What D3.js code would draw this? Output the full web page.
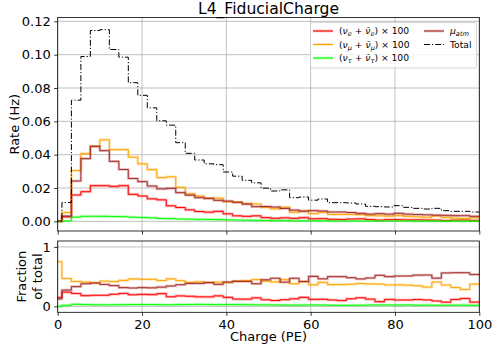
<!DOCTYPE html>
<html>
<head>
<meta charset="utf-8">
<script src="https://cdn.jsdelivr.net/npm/d3@7"></script>
<style>
body { margin: 0; background: #fff; }
svg { font-family: "DejaVu Sans", sans-serif; }
.grid line { stroke: #b0b0b0; stroke-width: 0.8; }
.axis path, .axis line { stroke: #000; stroke-width: 0.8; }
.axis text { font-size: 13px; fill: #000; font-family: "DejaVu Sans", sans-serif; }
.legend text { font-size: 9.2px; fill: #000; }
</style>
</head>
<body>
<svg width="492" height="353"></svg>
<script>
// histogram bin edges (PE), first bin is the underflow below 1 PE
var binEdges = [-1.25, 1, 3.25, 5.5, 7.75, 10, 12.25, 14.5, 16.75, 19, 21.25, 23.5, 25.75, 28,
  30.25, 32.5, 34.75, 37, 39.25, 41.5, 43.75, 46, 48.25, 50.5, 52.75, 55, 57.25, 59.5, 61.75,
  64, 66.25, 68.5, 70.75, 73, 75.25, 77.5, 79.75, 82, 84.25, 86.5, 88.75, 91, 93.25, 95.5, 97.75, 100];

// rates per bin (Hz), neutrinos already scaled x100
var nueRate = [0.00006, 0.0027, 0.0158, 0.0178, 0.0214, 0.0214, 0.0210, 0.0214, 0.0162, 0.0152,
  0.0135, 0.0129, 0.0093, 0.0083, 0.0069, 0.0059, 0.0055, 0.0060, 0.0045, 0.0033,
  0.0030, 0.0033, 0.0022, 0.0018, 0.0021, 0.0018, 0.0022, 0.0015, 0.0016, 0.0012,
  0.0011, 0.0014, 0.0015, 0.0011, 0.0007, 0.0010, 0.0010, 0.0009, 0.0009, 0.0008,
  0.0007, 0.00045, 0.0007, 0.0008, 0.0004];
var numuRate = [0.0003, 0.0053, 0.0305, 0.0406, 0.0450, 0.0489, 0.0430, 0.0430, 0.0385, 0.0345,
  0.0310, 0.0262, 0.0267, 0.0204, 0.0165, 0.0152, 0.0138, 0.0139, 0.0118, 0.0116,
  0.0107, 0.0104, 0.0084, 0.0075, 0.0085, 0.0054, 0.0061, 0.0046, 0.0054, 0.0041,
  0.0041, 0.0041, 0.0040, 0.0034, 0.0033, 0.0031, 0.0034, 0.0030, 0.0027, 0.0024,
  0.0032, 0.0023, 0.0019, 0.0017, 0.0021];
var nutauRate = [0, 0.0002, 0.0025, 0.0030, 0.0030, 0.0030, 0.0029, 0.0028, 0.0025, 0.0023,
  0.0021, 0.0017, 0.0016, 0.0014, 0.0013, 0.0012, 0.0011, 0.0010, 0.0009, 0.0008,
  0.0007, 0.0006, 0.0005, 0.0004, 0.0004, 0.0003, 0.0003, 0.0003, 0.0003, 0.0002,
  0.0002, 0.0002, 0.0002, 0.0002, 0.0002, 0.0002, 0.0002, 0.0002, 0.00015, 0.00015,
  0.00015, 0.00012, 0.00012, 0.00012, 0.0001];
var muAtmRate = [0.00005, 0.0031, 0.0242, 0.0376, 0.0450, 0.0424, 0.0360, 0.0311, 0.0257, 0.0238,
  0.0212, 0.0195, 0.0198, 0.0172, 0.0157, 0.0142, 0.0138, 0.0126, 0.0121, 0.0114,
  0.0103, 0.0088, 0.0089, 0.0086, 0.0077, 0.0067, 0.0061, 0.0064, 0.0062, 0.0056,
  0.0056, 0.0053, 0.0048, 0.0043, 0.0046, 0.0043, 0.0048, 0.0043, 0.0041, 0.0039,
  0.0037, 0.0036, 0.0034, 0.0034, 0.0030];
var totalRate = [0.0004, 0.0113, 0.0727, 0.0989, 0.1145, 0.1150, 0.1031, 0.0985, 0.0832, 0.0756,
  0.0681, 0.0603, 0.0577, 0.0472, 0.0408, 0.0368, 0.0345, 0.0340, 0.0296, 0.0271,
  0.0246, 0.0231, 0.0199, 0.0182, 0.0189, 0.0142, 0.0146, 0.0127, 0.0134, 0.0112,
  0.0112, 0.0110, 0.0104, 0.0090, 0.0088, 0.0086, 0.0094, 0.0084, 0.0078, 0.0074,
  0.0078, 0.0064, 0.0060, 0.0060, 0.0056];

var rateTicks = [0, 0.02, 0.04, 0.06, 0.08, 0.10, 0.12];
var fracTicks = [0, 1];
var chargeTicks = [0, 20, 40, 60, 80, 100];

var svg = d3.select("svg"),
    left = 57.7, right = 479.3,
    main = {top: 17.5, bottom: 231},
    frac = {top: 241, bottom: 312.3};

var x = d3.scaleLinear().domain([0, 100]).range([left, right]);
var yRate = d3.scaleLinear().domain([-0.0058, 0.1223]).range([main.bottom, main.top]);
var yFrac = d3.scaleLinear().domain([-0.1, 1.1]).range([frac.bottom, frac.top]);

var series = [
  {values: nueRate, color: "#ff0000"},
  {values: numuRate, color: "#ffa500"},
  {values: nutauRate, color: "#00ff00"},
  {values: muAtmRate, color: "#a52a2a"}
];

// step points: each bin value held from its left edge, last value closed at final edge
function steps(vals) {
  var pts = vals.map(function(v, i) { return [binEdges[i], v]; });
  pts.push([binEdges[binEdges.length - 1], vals[vals.length - 1]]);
  return pts;
}

// clip paths
var defs = svg.append("defs");
defs.append("clipPath").attr("id", "clipMain").append("rect")
    .attr("x", left).attr("y", main.top).attr("width", right - left).attr("height", main.bottom - main.top);
defs.append("clipPath").attr("id", "clipFrac").append("rect")
    .attr("x", left).attr("y", frac.top).attr("width", right - left).attr("height", frac.bottom - frac.top);

function panel(yScale, box, yTicks) {
  var g = svg.append("g");
  // grid
  var grid = g.append("g").attr("class", "grid");
  grid.selectAll(".v").data(chargeTicks).enter().append("line")
      .attr("x1", function(d) { return x(d); }).attr("x2", function(d) { return x(d); })
      .attr("y1", box.top).attr("y2", box.bottom);
  grid.selectAll(".h").data(yTicks).enter().append("line")
      .attr("y1", function(d) { return yScale(d); }).attr("y2", function(d) { return yScale(d); })
      .attr("x1", left).attr("x2", right);
  return g;
}

var mainG = panel(yRate, main, rateTicks);
var fracG = panel(yFrac, frac, fracTicks);

var rateLine = d3.line().curve(d3.curveStepAfter)
    .x(function(d) { return x(d[0]); })
    .y(function(d) { return yRate(d[1]); });
var fracLine = d3.line().curve(d3.curveStepAfter)
    .x(function(d) { return x(d[0]); })
    .y(function(d) { return yFrac(d[1]); });

var mainLines = mainG.append("g").attr("clip-path", "url(#clipMain)");
var fracLines = fracG.append("g").attr("clip-path", "url(#clipFrac)");

function drawStep(g, d, color) {
  // pale uncertainty band under each line
  g.append("path").attr("d", d)
      .attr("fill", "none").attr("stroke", color).attr("stroke-width", 2.6).attr("stroke-opacity", 0.32);
  g.append("path").attr("d", d)
      .attr("fill", "none").attr("stroke", color).attr("stroke-width", 0.95);
}

series.forEach(function(s) {
  var fr = s.values.map(function(v, i) { return v / totalRate[i]; });
  drawStep(mainLines, rateLine(steps(s.values)), s.color);
  drawStep(fracLines, fracLine(steps(fr)), s.color);
});

mainLines.append("path").attr("d", rateLine(steps(totalRate)))
    .attr("fill", "none").attr("stroke", "#000").attr("stroke-width", 1)
    .attr("stroke-dasharray", "6,2,1.2,2");

// axes
svg.append("g").attr("class", "axis")
    .attr("transform", "translate(" + left + ",0)")
    .call(d3.axisLeft(yRate).tickValues(rateTicks).tickFormat(d3.format(".2f")).tickSizeOuter(0).tickSize(3.5).tickPadding(3.5));
svg.append("g").attr("class", "axis")
    .attr("transform", "translate(0," + main.bottom + ")")
    .call(d3.axisBottom(x).tickValues(chargeTicks).tickFormat("").tickSizeOuter(0).tickSize(3.5));
svg.append("g").attr("class", "axis")
    .attr("transform", "translate(" + left + ",0)")
    .call(d3.axisLeft(yFrac).tickValues(fracTicks).tickFormat(d3.format("d")).tickSizeOuter(0).tickSize(3.5).tickPadding(3.5));
svg.append("g").attr("class", "axis")
    .attr("transform", "translate(0," + frac.bottom + ")")
    .call(d3.axisBottom(x).tickValues(chargeTicks).tickFormat(d3.format("d")).tickSizeOuter(0).tickSize(3.5).tickPadding(3.5));
svg.selectAll(".axis .domain").remove();

// frames
[main, frac].forEach(function(b) {
  svg.append("rect").attr("x", left).attr("y", b.top)
      .attr("width", right - left).attr("height", b.bottom - b.top)
      .attr("fill", "none").attr("stroke", "#000").attr("stroke-width", 0.8);
});

// labels
svg.append("text").attr("x", (left + right) / 2).attr("y", 14)
    .attr("text-anchor", "middle").style("font-size", "15.6px").text("L4_FiducialCharge");
svg.append("text").attr("transform", "translate(19," + ((main.top + main.bottom) / 2) + ") rotate(-90)")
    .attr("text-anchor", "middle").style("font-size", "13px").text("Rate (Hz)");
svg.append("text").attr("transform", "translate(26," + ((frac.top + frac.bottom) / 2) + ") rotate(-90)")
    .attr("text-anchor", "middle").style("font-size", "13px").text("Fraction");
svg.append("text").attr("transform", "translate(42," + ((frac.top + frac.bottom) / 2) + ") rotate(-90)")
    .attr("text-anchor", "middle").style("font-size", "13px").text("of total");
svg.append("text").attr("x", (left + right) / 2).attr("y", 341)
    .attr("text-anchor", "middle").style("font-size", "13px").text("Charge (PE)");

// legend
var legend = svg.append("g").attr("class", "legend");
legend.append("rect").attr("x", 310.5).attr("y", 22.5).attr("width", 166).attr("height", 45.5)
    .attr("rx", 2).attr("fill", "#fff").attr("fill-opacity", 0.8)
    .attr("stroke", "#cccccc").attr("stroke-width", 0.8);

var legendItems = [
  {color: "#ff0000", col: 0, row: 0, parts: [["(", ""], ["ν", "i"], ["e", "s"], [" + ", ""], ["ν\u0304", "i"], ["e", "s"], [") × 100", ""]]},
  {color: "#ffa500", col: 0, row: 1, parts: [["(", ""], ["ν", "i"], ["μ", "s"], [" + ", ""], ["ν\u0304", "i"], ["μ", "s"], [") × 100", ""]]},
  {color: "#00ff00", col: 0, row: 2, parts: [["(", ""], ["ν", "i"], ["τ", "s"], [" + ", ""], ["ν\u0304", "i"], ["τ", "s"], [") × 100", ""]]},
  {color: "#a52a2a", col: 1, row: 0, parts: [["μ", "i"], ["atm", "s"]]},
  {color: "#000", col: 1, row: 1, dash: true, parts: [["Total", ""]]}
];
var colX = [313, 424], rowY = [31, 44.5, 58];

legendItems.forEach(function(it) {
  var lx = colX[it.col], ly = rowY[it.row];
  if (!it.dash) {
    legend.append("line").attr("x1", lx).attr("x2", lx + 20).attr("y1", ly).attr("y2", ly)
        .attr("stroke", it.color).attr("stroke-width", 2.6).attr("stroke-opacity", 0.32);
  }
  legend.append("line").attr("x1", lx).attr("x2", lx + 20).attr("y1", ly).attr("y2", ly)
      .attr("stroke", it.color).attr("stroke-width", 1)
      .attr("stroke-dasharray", it.dash ? "6,2,1.2,2" : null);
  var t = legend.append("text").attr("x", lx + 26).attr("y", ly + 3.3);
  var shifted = false;
  it.parts.forEach(function(p) {
    var sp = t.append("tspan").text(p[0]);
    if (p[1] === "i") sp.style("font-style", "italic");
    if (p[1] === "s") {
      sp.style("font-style", "italic").style("font-size", "6.6px").attr("dy", 2);
      shifted = true;
    } else if (shifted) {
      sp.attr("dy", -2);
      shifted = false;
    }
  });
});
</script>
</body>
</html>
